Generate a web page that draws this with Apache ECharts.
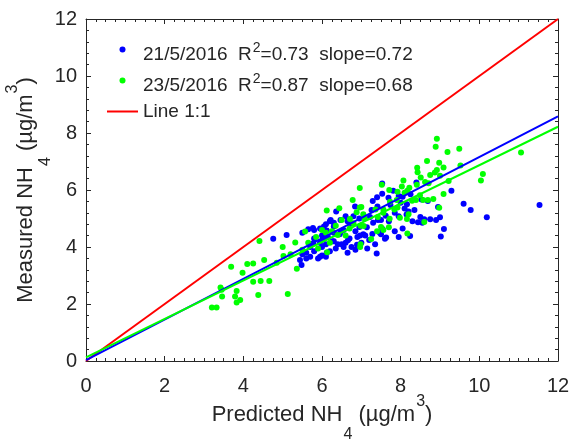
<!DOCTYPE html>
<html>
<head>
<meta charset="utf-8">
<script src="https://cdn.jsdelivr.net/npm/echarts@6/dist/echarts.min.js"></script>
<style>
  html, body { margin: 0; padding: 0; background: #fff; }
  #chart { width: 571px; height: 439px; }
</style>
</head>
<body>
<div id="chart"></div>
<script>
// predicted vs measured NH4
const blue21 = [
  [7.53,6.23],[8.40,6.26],[7.81,5.97],[9.29,5.97],[7.53,5.87],[7.69,5.73],[7.95,5.79],[7.29,5.61],
  [8.05,5.76],[8.53,5.67],[8.69,5.61],[9.60,5.52],[8.16,5.50],[7.74,5.47],[7.41,5.42],[9.78,5.30],
  [11.53,5.47],[8.20,5.25],[6.36,5.25],[6.84,5.42],[7.26,5.30],[8.15,5.14],[9.00,5.04],[10.19,5.04],
  [6.22,4.95],[6.80,5.08],[7.95,5.08],[8.60,4.97],[8.75,4.97],[8.44,4.87],[6.47,4.95],[7.42,4.95],
  [6.30,4.72],[6.72,4.83],[7.14,4.69],[7.53,4.64],[9.10,4.63],[6.12,4.58],[6.47,4.52],[6.97,4.40],
  [7.50,4.45],[9.02,4.37],[7.63,4.33],[6.03,4.27],[6.30,4.20],[6.60,4.15],[6.89,4.08],[7.05,4.45],
  [7.39,3.77],[8.24,4.39],[7.60,4.29],[7.28,4.46],[7.10,4.40],[6.90,4.35],[6.66,4.24],[6.50,4.10],
  [6.55,4.00],[6.75,4.00],[8.30,4.90],[7.70,4.90],[7.50,4.95],[7.30,4.85],[7.47,4.50],[6.60,5.08],
  [4.76,4.29],[5.10,4.42],[5.50,4.50],[5.80,4.60],[5.80,4.30],[6.00,4.40],[5.44,3.54],[5.48,3.37],
  [5.60,3.60],[5.60,3.80],[5.80,3.85],[6.00,4.00],[6.10,4.10],[6.27,4.20],[6.40,4.10],[6.20,4.90],
  [6.30,4.85],[6.10,4.80],[6.30,4.50],[6.00,3.70],[5.70,4.00],[5.50,3.75],[5.90,3.60],[5.77,4.67],
  [5.65,4.62],[5.95,4.65],[6.05,4.72],[6.15,4.35],[6.45,4.45],[6.55,4.60],[6.85,4.55],[6.95,4.70],
  [7.20,4.25],[7.00,4.15],[6.70,4.30],[6.35,3.95],[6.20,3.85],[5.95,4.15],[6.65,3.80],[7.15,3.95],
  [7.35,4.10],[7.85,4.55],[7.95,4.35],[8.05,4.65],[8.55,4.85],[8.50,5.05],[8.35,5.30],[8.10,5.35],
  [7.85,5.20],[7.62,5.10],[7.22,5.05],[6.95,5.00],[6.65,4.90],[8.95,5.40],[8.25,5.85],[8.00,5.55],
  [7.40,5.75],[8.90,4.95],[6.85,3.90],[5.95,3.66],[6.10,3.66],[5.78,4.13],[5.70,3.66],[6.12,3.80]
];
const green23 = [
  [8.92,7.80],[8.89,7.52],[9.49,7.45],[9.19,7.33],[11.06,7.32],[8.67,7.02],[8.98,6.96],[9.52,6.86],
  [9.09,6.79],[8.42,6.78],[8.92,6.70],[8.43,6.62],[8.87,6.61],[10.09,6.56],[8.75,6.53],[9.00,6.50],
  [8.51,6.44],[8.07,6.33],[10.04,6.33],[9.22,6.32],[8.62,6.28],[8.41,6.18],[8.71,6.24],[7.52,6.18],
  [8.03,6.12],[6.96,6.07],[8.22,6.08],[7.71,6.00],[8.17,5.97],[7.92,5.94],[9.09,5.86],[8.49,5.82],
  [8.10,5.90],[6.78,5.65],[8.83,5.68],[8.39,5.65],[8.57,5.65],[8.69,5.65],[8.29,5.62],[7.90,5.65],
  [7.73,5.59],[6.44,5.36],[6.12,5.28],[6.96,5.39],[7.00,5.40],[8.98,5.38],[7.56,5.32],[7.36,5.32],
  [7.92,5.39],[7.84,5.32],[7.56,5.20],[6.88,5.22],[7.05,5.15],[6.71,4.98],[7.08,5.00],[7.42,5.05],
  [8.20,5.15],[8.16,4.98],[7.72,4.99],[7.98,5.03],[8.60,4.88],[6.80,4.83],[7.06,4.74],[7.70,4.69],
  [7.56,4.60],[8.17,4.47],[7.25,4.28],[6.98,4.10],[6.97,4.00],[7.40,4.55],[7.50,4.70],[6.98,4.75],
  [6.50,4.95],[6.40,4.42],[4.41,4.21],[5.57,4.54],[5.32,4.16],[5.02,3.68],[5.20,3.75],[4.53,3.54],
  [4.25,3.42],[4.10,3.40],[3.69,3.31],[3.98,3.10],[4.85,3.45],[5.36,3.24],[4.25,2.78],[4.44,2.81],
  [4.66,2.81],[3.42,2.58],[3.45,2.50],[3.83,2.46],[4.38,2.32],[3.79,2.26],[3.92,2.14],[3.83,2.05],
  [3.46,2.26],[5.13,2.35],[3.20,1.88],[3.32,1.88],[6.10,4.50],[6.00,4.60],[5.50,3.90],[5.00,4.00],
  [5.85,4.35],[6.25,4.55],[6.60,4.40],[6.35,4.75],[6.70,4.65],[5.65,4.15],[5.90,3.95],[6.20,4.15],
  [6.13,3.82]
];
const oneToOne = [[0, 0], [12, 12]];
const fitBlue = [[0, 0.03], [12, 8.58]];
const fitGreen = [[0, 0.13], [12, 8.22]];

const axisMin = 0;
const axisMax = 12;
const axisStep = 2;

const legendNames = ["21/5/2016", "23/5/2016", "Line 1:1"];
const legendStats = {
  "21/5/2016": { r2: "0.73", slope: "0.72" },
  "23/5/2016": { r2: "0.87", slope: "0.68" }
};

const FONT = "'Liberation Sans', Arial, Helvetica, sans-serif";
const INK = "#262626";

const nameRich = {
  n: { fontSize: 22, lineHeight: 22, verticalAlign: "top", padding: [10, 0, 0, 0], color: INK, fontFamily: FONT },
  sub: { fontSize: 16, lineHeight: 16, verticalAlign: "top", padding: [33, 0, 0, 1], color: INK, fontFamily: FONT },
  sup: { fontSize: 16, lineHeight: 16, verticalAlign: "top", padding: [0, 0, 0, 1], color: INK, fontFamily: FONT }
};

function baseAxis(extra) {
  return Object.assign({
    type: "value",
    min: axisMin,
    max: axisMax,
    interval: axisStep,
    axisLine: { show: true, onZero: false, lineStyle: { color: INK, width: 1 } },
    axisTick: { show: true, inside: true, length: 5, lineStyle: { color: INK } },
    minorTick: { show: true, length: 3, lineStyle: { color: INK } },
    splitLine: { show: false },
    axisLabel: { show: false }
  }, extra);
}

const chart = echarts.init(document.getElementById("chart"));

chart.setOption({
  animation: false,
  backgroundColor: "#fff",
  grid: { left: 86, right: 13, top: 19, bottom: 78, containLabel: false, outerBoundsMode: "none" },
  xAxis: [
    baseAxis({
      position: "bottom",
      minorTick: { show: true, splitNumber: 8, length: 3, lineStyle: { color: INK } },
      axisLabel: { show: true, fontSize: 20, margin: 15, color: INK, fontFamily: FONT },
      name: "{n|Predicted NH}{sub|4}{n| (\u00b5g/m}{sup|3}{n|)}",
      nameLocation: "middle",
      nameGap: 33,
      nameMoveOverlap: false,
      nameTextStyle: { rich: nameRich }
    }),
    baseAxis({
      position: "top",
      minorTick: { show: true, splitNumber: 8, length: 3, lineStyle: { color: INK } }
    })
  ],
  yAxis: [
    baseAxis({
      position: "left",
      minorTick: { show: true, splitNumber: 5, length: 3, lineStyle: { color: INK } },
      axisLabel: { show: true, fontSize: 20, margin: 9, color: INK, fontFamily: FONT },
      name: "{n|Measured NH}{sub|4}{n| (\u00b5g/m}{sup|3}{n|)}",
      nameLocation: "middle",
      nameGap: 59,
      nameMoveOverlap: false,
      nameTextStyle: { rich: nameRich }
    }),
    baseAxis({
      position: "right",
      minorTick: { show: true, splitNumber: 5, length: 3, lineStyle: { color: INK } }
    })
  ],
  legend: {
    orient: "vertical",
    left: 107,
    top: 40,
    padding: 0,
    itemWidth: 31,
    itemHeight: 6,
    itemGap: 7,
    data: [
      { name: legendNames[0], icon: "circle" },
      { name: legendNames[1], icon: "circle" },
      { name: legendNames[2], icon: "path://M0,0H31V2H0Z" }
    ],
    formatter: function(name) {
      const s = legendStats[name];
      if (!s) return "{b|" + name + "}";
      return "{a|" + name + "  R}{s|2}{a|=" + s.r2 + "  slope=" + s.slope + "}";
    },
    textStyle: {
      color: INK,
      fontFamily: FONT,
      fontSize: 19,
      rich: {
        a: { fontSize: 19, lineHeight: 19, verticalAlign: "top", padding: [5, 0, 0, 0], color: INK, fontFamily: FONT },
        s: { fontSize: 14, lineHeight: 14, verticalAlign: "top", padding: [1, 0, 0, 1], color: INK, fontFamily: FONT },
        b: { fontSize: 19, lineHeight: 19, color: INK, fontFamily: FONT }
      }
    }
  },
  series: [
    {
      name: legendNames[0],
      type: "scatter",
      data: blue21,
      symbolSize: 6,
      itemStyle: { color: "#0000ff", opacity: 1 }
    },
    {
      name: legendNames[1],
      type: "scatter",
      data: green23,
      symbolSize: 6,
      itemStyle: { color: "#00ff00", opacity: 1 }
    },
    {
      name: legendNames[2],
      type: "line",
      data: oneToOne,
      symbol: "none",
      lineStyle: { color: "#ff0000", width: 2 },
      itemStyle: { color: "#ff0000" }
    },
    {
      name: "fit 21/5",
      type: "line",
      data: fitBlue,
      symbol: "none",
      lineStyle: { color: "#0000ff", width: 2 }
    },
    {
      name: "fit 23/5",
      type: "line",
      data: fitGreen,
      symbol: "none",
      lineStyle: { color: "#00ff00", width: 2 }
    }
  ]
});
</script>
</body>
</html>
